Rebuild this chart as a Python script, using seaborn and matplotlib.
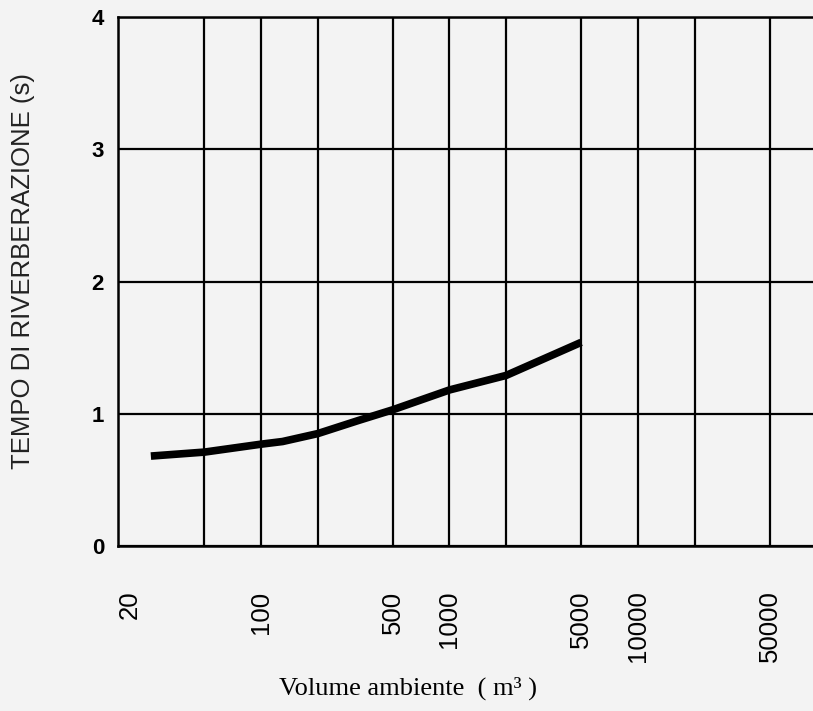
import matplotlib
matplotlib.use("Agg")
import matplotlib.pyplot as plt
import seaborn as sns
import pandas as pd

# ---- data ----
volume_m3 = [26, 50, 100, 130, 200, 330, 500, 1000, 2000, 5000]
reverb_s = [0.68, 0.71, 0.77, 0.79, 0.85, 0.95, 1.03, 1.18, 1.29, 1.54]

xtick_values = [20, 100, 500, 1000, 5000, 10000, 50000]
xtick_labels = ["20", "100", "500", "1000", "5000", "10000", "50000"]
x_grid_values = [50, 100, 200, 500, 1000, 2000, 5000, 10000, 20000, 50000]
ytick_values = [0, 1, 2, 3, 4]
ytick_labels = ["0", "1", "2", "3", "4"]

x_label = "Volume ambiente  ( m\u00b3 )"
y_label = "TEMPO DI RIVERBERAZIONE (s)"

df = pd.DataFrame({"volume": volume_m3, "rt": reverb_s})

sns.set_theme(style="white")
plt.rcParams["font.family"] = ["Liberation Sans", "DejaVu Sans"]

bg = "#f3f3f3"
fig = plt.figure(figsize=(8.13, 7.11), dpi=100, facecolor=bg)
ax = fig.add_axes([118 / 813, (711 - 546) / 711, (813 - 118) / 813, (546 - 17) / 711])
ax.set_facecolor(bg)

sns.lineplot(data=df, x="volume", y="rt", color="black", linewidth=5.5,
             solid_capstyle="butt", ax=ax, legend=False)

ax.set_xscale("log")
ax.set_xlim(17.4, 85000)
ax.set_ylim(0, 4)

ax.xaxis.remove_overlapping_locs = False
ax.set_xticks(xtick_values)
ax.set_xticklabels(xtick_labels, rotation=90, fontsize=18.5, va="top")
ax.set_xticks(x_grid_values, minor=True)
ax.tick_params(axis="x", which="both", length=0, pad=32, colors="black")
ax.tick_params(axis="x", which="minor", labelbottom=False)

ax.set_yticks(ytick_values)
ax.set_yticklabels(ytick_labels, fontsize=16, fontweight="bold")
ax.tick_params(axis="y", length=0, pad=10, colors="black")

ax.grid(False)
ax.grid(True, axis="x", which="minor", color="black", linewidth=1.6)
ax.grid(True, axis="y", which="major", color="black", linewidth=1.6)

for side in ["left", "top", "bottom"]:
    ax.spines[side].set_visible(True)
    ax.spines[side].set_color("black")
    ax.spines[side].set_linewidth(1.8)
ax.spines["right"].set_visible(False)

ax.set_xlabel("")
ax.set_ylabel("")
fig.text(408 / 813, 1 - 688 / 711, x_label, ha="center", va="center",
         fontsize=19, family=["Liberation Serif", "DejaVu Serif"], color="black")
fig.text(23 / 813, 1 - 271 / 711, y_label, ha="center", va="center",
         rotation=90, fontsize=18.5, color="#222222")

fig.savefig("out.png", dpi=100, facecolor=bg)
